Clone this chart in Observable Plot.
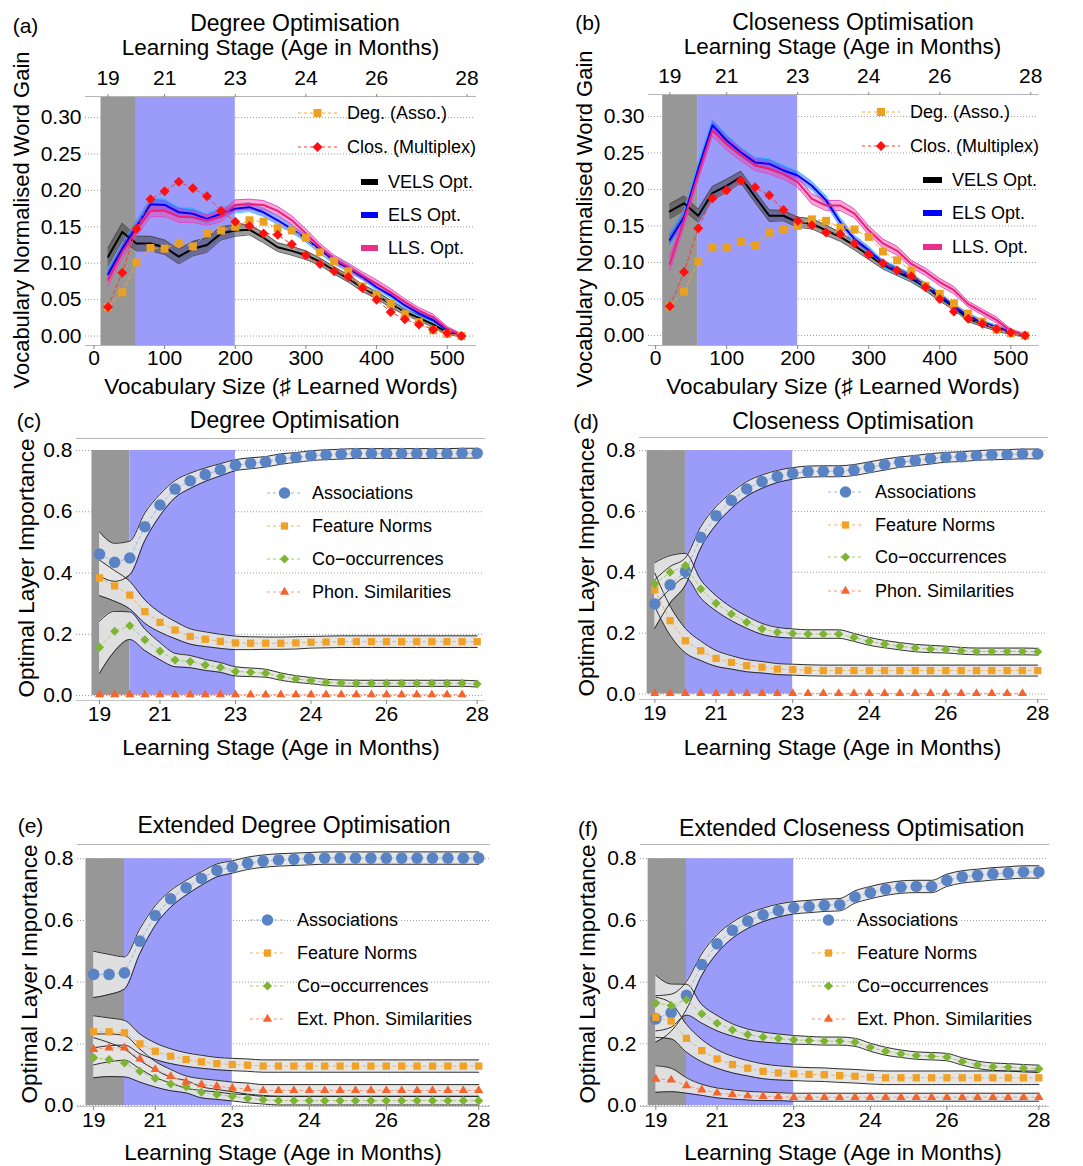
<!DOCTYPE html>
<html><head><meta charset="utf-8">
<script src="https://cdn.jsdelivr.net/npm/d3@7"></script>
<script src="https://cdn.jsdelivr.net/npm/@observablehq/plot@0.6"></script>
<style>
body{margin:0;background:#fff;font-family:"Liberation Sans",Arial,Helvetica,sans-serif;}
#root{position:relative;width:1083px;height:1166px;overflow:hidden;background:#fff;}
.t{position:absolute;white-space:nowrap;color:#000;line-height:1;transform:translate(-50%,-50%);}
.p{position:absolute;}
.p svg{overflow:visible;}
</style></head><body><div id="root"></div><script>
// ---------------- DATA ----------------
const vocab = [20,40,60,80,100,120,140,160,180,200,220,240,260,280,300,320,340,360,380,400,420,440,460,480,500,520];
const vocabTicks = [0,100,200,300,400,500];
const monthLabels = ["19","21","23","24","26","28"];
const monthAtVocabTop = [20,100,200,300,400,528];
const monthAtVocab = [20,100,200,300,400,520];
const gainTicks = [0,0.05,0.10,0.15,0.20,0.25,0.30];
const importanceTicks = [0,0.2,0.4,0.6,0.8];
const stageStart = [10,60];
const stageEnd = [60,200];
const stageImportanceRange = [0,0.8];

// panels (a),(b): baselines
const degAsso = [0.040,0.060,0.101,0.121,0.120,0.128,0.123,0.141,0.145,0.150,0.159,0.157,0.148,0.145,0.135,0.115,0.103,0.089,0.068,0.057,0.044,0.030,0.019,0.008,0.003,0.000];
const closMultiplex = [0.040,0.087,0.147,0.188,0.199,0.212,0.203,0.192,0.172,0.157,0.151,0.141,0.139,0.126,0.111,0.099,0.089,0.081,0.066,0.050,0.033,0.023,0.016,0.009,0.004,0.000];
// panel (a)
const velsA = [0.109,0.143,0.127,0.127,0.122,0.109,0.120,0.125,0.141,0.145,0.146,0.135,0.122,0.117,0.111,0.102,0.090,0.079,0.066,0.056,0.044,0.033,0.025,0.016,0.005,0.001];
const velsSprA = [0.012,0.012,0.010,0.010,0.010,0.010,0.010,0.010,0.009,0.008,0.007,0.007,0.006,0.006,0.006,0.005,0.005,0.005,0.005,0.005,0.005,0.004,0.004,0.004,0.003,0.002];
const elsA = [0.085,0.120,0.150,0.181,0.180,0.170,0.168,0.161,0.168,0.175,0.177,0.170,0.159,0.147,0.134,0.118,0.104,0.093,0.081,0.067,0.056,0.042,0.031,0.022,0.008,0.001];
const elsSprA = [0.008,0.008,0.008,0.008,0.008,0.007,0.007,0.007,0.007,0.006,0.006,0.006,0.006,0.005,0.005,0.005,0.005,0.005,0.004,0.004,0.004,0.004,0.004,0.003,0.003,0.002];
const llsA = [0.077,0.115,0.145,0.172,0.172,0.164,0.163,0.159,0.164,0.180,0.181,0.180,0.172,0.159,0.141,0.122,0.106,0.095,0.083,0.072,0.060,0.047,0.035,0.026,0.010,0.001];
const llsSprA = [0.008,0.008,0.008,0.008,0.008,0.008,0.007,0.007,0.007,0.007,0.007,0.006,0.006,0.006,0.006,0.005,0.005,0.005,0.005,0.005,0.005,0.004,0.004,0.004,0.003,0.002];
// panel (b)
const velsB = [0.170,0.181,0.164,0.195,0.205,0.217,0.190,0.164,0.164,0.155,0.153,0.144,0.135,0.123,0.110,0.097,0.087,0.078,0.066,0.052,0.039,0.023,0.016,0.009,0.004,0.000];
const velsSprB = [0.010,0.010,0.009,0.009,0.009,0.008,0.008,0.008,0.007,0.007,0.007,0.007,0.006,0.006,0.006,0.006,0.005,0.005,0.005,0.005,0.004,0.004,0.004,0.003,0.003,0.002];
const elsB = [0.131,0.162,0.228,0.288,0.267,0.251,0.237,0.235,0.226,0.219,0.205,0.185,0.155,0.132,0.117,0.098,0.089,0.080,0.068,0.055,0.039,0.027,0.018,0.011,0.005,0.000];
const elsSprB = [0.009,0.009,0.008,0.008,0.008,0.007,0.007,0.007,0.007,0.006,0.006,0.006,0.006,0.005,0.005,0.005,0.005,0.005,0.004,0.004,0.004,0.004,0.003,0.003,0.003,0.002];
const llsB = [0.098,0.158,0.221,0.281,0.262,0.247,0.233,0.228,0.221,0.210,0.187,0.178,0.178,0.167,0.144,0.126,0.116,0.098,0.087,0.073,0.062,0.043,0.032,0.021,0.006,0.000];
const llsSprB = [0.009,0.009,0.008,0.008,0.008,0.008,0.007,0.007,0.007,0.007,0.007,0.007,0.007,0.006,0.006,0.006,0.006,0.005,0.005,0.005,0.005,0.004,0.004,0.004,0.003,0.002];

// panel (c) Degree optimisation layer importance
const assocC = [0.462,0.435,0.449,0.551,0.622,0.674,0.701,0.721,0.737,0.752,0.758,0.763,0.772,0.777,0.783,0.786,0.788,0.790,0.790,0.790,0.790,0.790,0.790,0.790,0.791,0.791];
const assocSprC = [0.072,0.062,0.055,0.045,0.035,0.028,0.025,0.022,0.020,0.018,0.018,0.017,0.017,0.016,0.016,0.016,0.016,0.016,0.016,0.016,0.016,0.016,0.016,0.016,0.016,0.016];
const featC = [0.384,0.358,0.328,0.274,0.239,0.214,0.193,0.184,0.177,0.172,0.171,0.171,0.171,0.172,0.174,0.175,0.176,0.176,0.176,0.176,0.176,0.176,0.176,0.176,0.176,0.176];
const featSprC = [0.058,0.050,0.045,0.038,0.032,0.028,0.025,0.024,0.023,0.022,0.021,0.020,0.020,0.020,0.019,0.019,0.019,0.019,0.019,0.019,0.019,0.019,0.019,0.019,0.019,0.019];
const coocC = [0.158,0.210,0.228,0.182,0.145,0.116,0.111,0.100,0.092,0.079,0.076,0.073,0.062,0.054,0.049,0.043,0.041,0.040,0.040,0.040,0.040,0.040,0.040,0.040,0.040,0.038];
const coocSprC = [0.085,0.065,0.045,0.035,0.028,0.022,0.020,0.018,0.016,0.015,0.014,0.013,0.012,0.011,0.010,0.010,0.010,0.010,0.010,0.010,0.010,0.010,0.010,0.010,0.010,0.010];
const phonC = [0.003,0.003,0.003,0.003,0.003,0.003,0.003,0.003,0.003,0.003,0.003,0.003,0.003,0.003,0.003,0.003,0.003,0.003,0.003,0.003,0.003,0.003,0.003,0.003,0.003];

// panel (d) Closeness optimisation
const assocD = [0.296,0.359,0.403,0.515,0.586,0.636,0.674,0.698,0.715,0.725,0.731,0.732,0.732,0.736,0.745,0.754,0.762,0.767,0.773,0.778,0.780,0.784,0.786,0.787,0.789,0.789];
const assocSprD = [0.080,0.060,0.045,0.035,0.030,0.026,0.024,0.022,0.020,0.019,0.018,0.018,0.018,0.018,0.018,0.018,0.017,0.017,0.017,0.016,0.016,0.016,0.016,0.016,0.016,0.016];
const featD = [0.342,0.241,0.175,0.142,0.117,0.104,0.093,0.088,0.082,0.080,0.078,0.077,0.077,0.077,0.077,0.077,0.077,0.077,0.077,0.077,0.077,0.077,0.077,0.077,0.077,0.077];
const featSprD = [0.055,0.048,0.040,0.032,0.026,0.022,0.020,0.019,0.018,0.018,0.018,0.018,0.018,0.018,0.018,0.018,0.018,0.018,0.018,0.018,0.018,0.018,0.018,0.018,0.018,0.018];
const coocD = [0.362,0.400,0.422,0.345,0.298,0.263,0.236,0.214,0.203,0.199,0.197,0.197,0.197,0.186,0.173,0.164,0.157,0.151,0.148,0.146,0.142,0.140,0.140,0.140,0.140,0.139];
const coocSprD = [0.070,0.055,0.040,0.030,0.025,0.022,0.020,0.018,0.016,0.015,0.014,0.014,0.014,0.013,0.013,0.012,0.012,0.012,0.012,0.011,0.011,0.011,0.011,0.011,0.011,0.011];
const phonD = [0.002,0.002,0.002,0.002,0.002,0.002,0.002,0.002,0.002,0.002,0.002,0.002,0.002,0.002,0.002,0.002,0.002,0.002,0.002,0.002,0.002,0.002,0.002,0.002,0.002];

// panel (e) Extended degree optimisation
const assocE = [0.425,0.425,0.430,0.533,0.616,0.670,0.706,0.736,0.762,0.773,0.785,0.792,0.796,0.798,0.800,0.802,0.802,0.802,0.802,0.802,0.802,0.802,0.802,0.802,0.802,0.802];
const assocSprE = [0.075,0.065,0.052,0.040,0.032,0.027,0.024,0.022,0.021,0.020,0.020,0.020,0.020,0.020,0.020,0.020,0.020,0.020,0.020,0.020,0.020,0.020,0.020,0.020,0.020,0.020];
const featE = [0.239,0.239,0.236,0.200,0.176,0.160,0.149,0.142,0.136,0.133,0.131,0.128,0.128,0.128,0.128,0.128,0.128,0.128,0.128,0.128,0.128,0.128,0.128,0.128,0.128,0.128];
const featSprE = [0.052,0.045,0.040,0.032,0.027,0.024,0.022,0.021,0.020,0.020,0.020,0.020,0.020,0.020,0.020,0.020,0.020,0.020,0.020,0.020,0.020,0.020,0.020,0.020,0.020,0.020];
const coocE = [0.155,0.149,0.138,0.111,0.088,0.070,0.061,0.043,0.036,0.030,0.023,0.019,0.016,0.016,0.016,0.016,0.016,0.016,0.016,0.016,0.016,0.016,0.016,0.016,0.016,0.016];
const coocSprE = [0.065,0.055,0.045,0.035,0.028,0.022,0.020,0.018,0.016,0.015,0.014,0.014,0.014,0.014,0.014,0.014,0.014,0.014,0.014,0.014,0.014,0.014,0.014,0.014,0.014,0.014];
const extPhonE = [0.182,0.187,0.187,0.151,0.117,0.095,0.076,0.068,0.063,0.057,0.054,0.049,0.049,0.049,0.049,0.049,0.049,0.049,0.049,0.049,0.049,0.049,0.049,0.049,0.049,0.049];
const extPhonSprE = [0.050,0.045,0.040,0.032,0.026,0.022,0.020,0.019,0.019,0.019,0.019,0.019,0.019,0.019,0.019,0.019,0.019,0.019,0.019,0.019,0.019,0.019,0.019,0.019,0.019,0.019];

// panel (f) Extended closeness optimisation
const assocF = [0.281,0.301,0.357,0.457,0.524,0.568,0.598,0.618,0.632,0.641,0.645,0.649,0.651,0.676,0.690,0.701,0.708,0.710,0.710,0.730,0.741,0.746,0.751,0.754,0.757,0.757];
const assocSprF = [0.075,0.060,0.045,0.035,0.030,0.026,0.024,0.022,0.021,0.020,0.020,0.020,0.020,0.020,0.020,0.020,0.020,0.020,0.020,0.020,0.020,0.020,0.020,0.020,0.020,0.020];
const featF = [0.286,0.274,0.218,0.178,0.151,0.133,0.121,0.111,0.106,0.103,0.101,0.100,0.097,0.095,0.092,0.090,0.090,0.090,0.090,0.090,0.090,0.090,0.090,0.090,0.090,0.090];
const featSprF = [0.065,0.058,0.045,0.036,0.030,0.027,0.025,0.024,0.023,0.022,0.022,0.022,0.022,0.022,0.022,0.022,0.022,0.022,0.022,0.022,0.022,0.022,0.022,0.022,0.022,0.022];
const coocF = [0.332,0.324,0.343,0.297,0.267,0.245,0.230,0.222,0.217,0.213,0.211,0.209,0.209,0.205,0.189,0.176,0.168,0.162,0.160,0.157,0.143,0.132,0.126,0.124,0.121,0.119];
const coocSprF = [0.090,0.070,0.050,0.030,0.025,0.020,0.018,0.016,0.015,0.014,0.013,0.013,0.013,0.013,0.013,0.013,0.012,0.012,0.012,0.012,0.012,0.012,0.012,0.012,0.012,0.012];
const extPhonF = [0.086,0.083,0.065,0.051,0.041,0.036,0.032,0.030,0.029,0.027,0.027,0.027,0.027,0.027,0.027,0.027,0.027,0.027,0.027,0.027,0.027,0.027,0.027,0.027,0.027,0.027];
const extPhonSprF = [0.043,0.038,0.025,0.018,0.016,0.015,0.014,0.014,0.013,0.013,0.013,0.013,0.013,0.013,0.013,0.013,0.013,0.013,0.013,0.013,0.013,0.013,0.013,0.013,0.013,0.013];

// ---------------- STYLE / LAYOUT ----------------
const FONT = "Liberation Sans, Arial, Helvetica, sans-serif";
const STAGE_COLORS = ["#979797","#9b9bfa"];
const M = {l:70, r:30, t:45, b:45};
const root = document.getElementById("root");

function rowsOf(mean, spread) {
  return mean.map((m,i) => ({v: vocab[i], m, lo: spread ? m - spread[i] : m, hi: spread ? m + spread[i] : m}));
}
function addText(txt, x, y, size, opt = {}) {
  const d = document.createElement("div");
  d.className = "t";
  d.textContent = txt;
  d.style.left = x + "px"; d.style.top = y + "px"; d.style.fontSize = size + "px";
  if (opt.rotate) d.style.transform = "translate(-50%,-50%) rotate(-90deg)";
  if (opt.left) d.style.transform = "translate(0,-50%)";
  root.appendChild(d);
}
function place(svg, L) {
  const w = document.createElement("div");
  w.className = "p";
  w.style.left = (L.fx[0] - M.l) + "px";
  w.style.top = (L.fy[0] - M.t) + "px";
  w.appendChild(svg);
  root.appendChild(w);
}
function baseOpts(L) {
  return {
    width: L.fx[1] - L.fx[0] + M.l + M.r,
    height: L.fy[1] - L.fy[0] + M.t + M.b,
    marginLeft: M.l, marginRight: M.r, marginTop: M.t, marginBottom: M.b,
    x: {domain: L.xd}, y: {domain: L.yd},
    style: {fontFamily: FONT, fontSize: "21px", color: "#000", background: "transparent", overflow: "visible"}
  };
}

const DEG_STYLE = {line: "#eeaa3a", fill: "#e9a11f", symbol: "square", r: 4.5};
const CLOS_STYLE = {line: "#f23b3b", fill: "#ff1010", symbol: "diamond2", r: 4.5};

function gainPanel(L, bands) {
  const marks = [
    Plot.gridY(gainTicks, {stroke: "#9a9a9a", strokeOpacity: 1, strokeDasharray: "1,2"}),
    Plot.rect([{s: stageStart[0], e: stageEnd[0]}], {x1: "s", x2: "e", fill: STAGE_COLORS[0]}),
    Plot.rect([{s: stageStart[1], e: stageEnd[1]}], {x1: "s", x2: "e", fill: STAGE_COLORS[1]})
  ];
  for (const b of bands) {
    const rows = rowsOf(b.mean, b.spread);
    marks.push(Plot.areaY(rows, {x: "v", y1: "lo", y2: "hi", fill: b.fill, fillOpacity: b.op}));
    marks.push(Plot.line(rows, {x: "v", y: "lo", stroke: b.edge, strokeWidth: 1, strokeOpacity: 0.9}));
    marks.push(Plot.line(rows, {x: "v", y: "hi", stroke: b.edge, strokeWidth: 1, strokeOpacity: 0.9}));
  }
  for (const b of bands) {
    marks.push(Plot.line(rowsOf(b.mean), {x: "v", y: "m", stroke: b.line, strokeWidth: 2}));
  }
  const deg = rowsOf(degAsso), clos = rowsOf(closMultiplex);
  marks.push(Plot.line(deg, {x: "v", y: "m", stroke: DEG_STYLE.line, strokeWidth: 1, strokeDasharray: "4,3"}));
  marks.push(Plot.line(clos, {x: "v", y: "m", stroke: CLOS_STYLE.line, strokeWidth: 1, strokeDasharray: "4,3"}));
  marks.push(Plot.dot(deg, {x: "v", y: "m", symbol: DEG_STYLE.symbol, r: DEG_STYLE.r, fill: DEG_STYLE.fill}));
  marks.push(Plot.dot(clos, {x: "v", y: "m", symbol: CLOS_STYLE.symbol, r: CLOS_STYLE.r, fill: CLOS_STYLE.fill}));
  marks.push(Plot.frame({anchor: "top", stroke: "#b5b5b5"}));
  marks.push(Plot.frame({anchor: "bottom", stroke: "#b5b5b5"}));
  marks.push(Plot.axisY({ticks: gainTicks, tickFormat: d3.format(".2f"), tickSize: 0, tickPadding: 4, label: null}));
  marks.push(Plot.axisX({anchor: "bottom", ticks: vocabTicks, tickSize: 4, tickPadding: 1, label: null, stroke: "#888"}));
  marks.push(Plot.axisX({anchor: "top", ticks: monthAtVocabTop, tickFormat: d => monthLabels[monthAtVocabTop.indexOf(d)], tickSize: 3, tickPadding: 9, label: null, stroke: "#888"}));
  place(Plot.plot({...baseOpts(L), marks}), L);
}

const SER = {
  assoc: {symbol: "circle", r: 5.8, fill: "#5a83c6", line: "#9db5df"},
  feat:  {symbol: "square", r: 4.1, fill: "#f0a128", line: "#f1b45a"},
  cooc:  {symbol: "diamond2", r: 4.1, fill: "#7db532", line: "#a5cc6c"},
  phon:  {symbol: "triangle", r: 3.4, fill: "#f3642f", line: "#f59b79"}
};

function importancePanel(L, series) {
  const marks = [
    Plot.gridY(importanceTicks, {stroke: "#9a9a9a", strokeOpacity: 1, strokeDasharray: "1,2"}),
    Plot.rect([{s: stageStart[0], e: stageEnd[0]}], {x1: "s", x2: "e", y1: () => stageImportanceRange[0], y2: () => stageImportanceRange[1], fill: STAGE_COLORS[0]}),
    Plot.rect([{s: stageStart[1], e: stageEnd[1]}], {x1: "s", x2: "e", y1: () => stageImportanceRange[0], y2: () => stageImportanceRange[1], fill: STAGE_COLORS[1]})
  ];
  for (const s of series) {
    if (!s.spread) continue;
    const rows = rowsOf(s.mean, s.spread);
    marks.push(Plot.areaY(rows, {x: "v", y1: "lo", y2: "hi", fill: "#e4e4e4", fillOpacity: 0.93, curve: "monotone-x"}));
  }
  for (const s of series) {
    if (!s.spread) continue;
    const rows = rowsOf(s.mean, s.spread);
    marks.push(Plot.line(rows, {x: "v", y: "lo", stroke: "#1a1a1a", strokeWidth: 0.9, curve: "monotone-x"}));
    marks.push(Plot.line(rows, {x: "v", y: "hi", stroke: "#1a1a1a", strokeWidth: 0.9, curve: "monotone-x"}));
  }
  for (const s of series) {
    const st = SER[s.key];
    const rows = rowsOf(s.mean);
    marks.push(Plot.line(rows, {x: "v", y: "m", stroke: st.line, strokeWidth: 1, strokeDasharray: "3,3"}));
    marks.push(Plot.dot(rows, {x: "v", y: "m", symbol: st.symbol, r: st.r, fill: st.fill}));
  }
  marks.push(Plot.frame({anchor: "top", stroke: "#b5b5b5"}));
  marks.push(Plot.frame({anchor: "bottom", stroke: "#c5c5c5"}));
  marks.push(Plot.axisY({ticks: importanceTicks, tickFormat: d3.format(".1f"), tickSize: 0, tickPadding: 4, label: null}));
  marks.push(Plot.axisX({anchor: "bottom", ticks: monthAtVocab, tickFormat: d => monthLabels[monthAtVocab.indexOf(d)], tickSize: 4, tickPadding: 2, label: null, stroke: "#888"}));
  place(Plot.plot({...baseOpts(L), marks}), L);
}

// ---------------- PANELS ----------------
gainPanel({fx: [85,475], fy: [96,345], xd: [-12,540], yd: [-0.013,0.329]}, [
  {mean: velsA, spread: velsSprA, fill: "#3a3a3a", op: 0.5, edge: "#4a4a4a", line: "#000"},
  {mean: elsA, spread: elsSprA, fill: "#1f3dff", op: 0.45, edge: "#30c8ff", line: "#0000ff"},
  {mean: llsA, spread: llsSprA, fill: "#ff3fa0", op: 0.45, edge: "#dd44cc", line: "#e8207f"}
]);
gainPanel({fx: [648,1038], fy: [94,345], xd: [-10,539], yd: [-0.0137,0.330]}, [
  {mean: velsB, spread: velsSprB, fill: "#3a3a3a", op: 0.5, edge: "#4a4a4a", line: "#000"},
  {mean: elsB, spread: elsSprB, fill: "#1f3dff", op: 0.45, edge: "#30c8ff", line: "#0000ff"},
  {mean: llsB, spread: llsSprB, fill: "#ff3fa0", op: 0.45, edge: "#dd44cc", line: "#e8207f"}
]);
importancePanel({fx: [76,484], fy: [438,700], xd: [-10.5,529.7], yd: [-0.016,0.839]}, [
  {key: "assoc", mean: assocC, spread: assocSprC},
  {key: "feat", mean: featC, spread: featSprC},
  {key: "cooc", mean: coocC, spread: coocSprC},
  {key: "phon", mean: phonC}
]);
importancePanel({fx: [639,1047], fy: [437,699], xd: [0,532.7], yd: [-0.018,0.843]}, [
  {key: "assoc", mean: assocD, spread: assocSprD},
  {key: "feat", mean: featD, spread: featSprD},
  {key: "cooc", mean: coocD, spread: coocSprD},
  {key: "phon", mean: phonD}
]);
importancePanel({fx: [77,489], fy: [844,1106], xd: [-1,534], yd: [-0.003,0.846]}, [
  {key: "assoc", mean: assocE, spread: assocSprE},
  {key: "feat", mean: featE, spread: featSprE},
  {key: "cooc", mean: coocE, spread: coocSprE},
  {key: "phon", mean: extPhonE, spread: extPhonSprE}
]);
importancePanel({fx: [640,1048], fy: [844,1106], xd: [0,532.6], yd: [-0.003,0.846]}, [
  {key: "assoc", mean: assocF, spread: assocSprF},
  {key: "feat", mean: featF, spread: featSprF},
  {key: "cooc", mean: coocF, spread: coocSprF},
  {key: "phon", mean: extPhonF, spread: extPhonSprF}
]);

// ---------------- TEXT ----------------
const TS = 23, AS = 22.5, LS = 18;
addText("(a)", 25.5, 25, 21);
addText("Degree Optimisation", 295, 23, TS);
addText("Learning Stage (Age in Months)", 280.5, 48, AS);
addText("Vocabulary Normalised Word Gain", 22, 220, 22, {rotate: true});
addText("Vocabulary Size (\u266F Learned Words)", 281, 387, AS);

addText("(b)", 588, 22, 21);
addText("Closeness Optimisation", 853, 22, TS);
addText("Learning Stage (Age in Months)", 842.5, 47, AS);
addText("Vocabulary Normalised Word Gain", 585, 219, 22, {rotate: true});
addText("Vocabulary Size (\u266F Learned Words)", 843, 387, AS);

addText("(c)", 29, 420, 21);
addText("Degree Optimisation", 294.7, 420, TS);
addText("Optimal Layer Importance", 27, 568, AS, {rotate: true});
addText("Learning Stage (Age in Months)", 281, 748, AS);

addText("(d)", 586, 421, 21);
addText("Closeness Optimisation", 853, 421, TS);
addText("Optimal Layer Importance", 587, 567, AS, {rotate: true});
addText("Learning Stage (Age in Months)", 842.5, 748, AS);

addText("(e)", 30.5, 825, 21);
addText("Extended Degree Optimisation", 294, 825, TS);
addText("Optimal Layer Importance", 30, 974, AS, {rotate: true});
addText("Learning Stage (Age in Months)", 283, 1153, AS);

addText("(f)", 588, 828, 21);
addText("Extended Closeness Optimisation", 851.7, 828, TS);
addText("Optimal Layer Importance", 588, 974, AS, {rotate: true});
addText("Learning Stage (Age in Months)", 843, 1153, AS);

// ---------------- LEGENDS ----------------
const ov = d3.select(root).append("svg").attr("width", 1083).attr("height", 1166)
  .style("position", "absolute").style("left", "0px").style("top", "0px").style("pointer-events", "none");
const SYM = {circle: d3.symbolCircle, square: d3.symbolSquare, diamond2: d3.symbolDiamond2, triangle: d3.symbolTriangle};
function legendMarker(x1, x2, y, lineColor, symbol, r, fill) {
  ov.append("line").attr("x1", x1).attr("x2", x2).attr("y1", y).attr("y2", y)
    .attr("stroke", lineColor).attr("stroke-width", 1).attr("stroke-dasharray", "3,3");
  ov.append("path").attr("d", d3.symbol(SYM[symbol], Math.PI * r * r)()).attr("transform", `translate(${(x1 + x2) / 2},${y})`).attr("fill", fill);
}
function legendBar(x1, x2, y, color) {
  ov.append("rect").attr("x", x1).attr("y", y - 3).attr("width", x2 - x1).attr("height", 6).attr("fill", color);
}
function gainLegend(lx, tx, rows1, bx, btx, rows2) {
  legendMarker(lx[0], lx[1], rows1[0], DEG_STYLE.line, DEG_STYLE.symbol, DEG_STYLE.r, DEG_STYLE.fill);
  addText("Deg. (Asso.)", tx, rows1[0], LS, {left: true});
  legendMarker(lx[0], lx[1], rows1[1], CLOS_STYLE.line, CLOS_STYLE.symbol, CLOS_STYLE.r, CLOS_STYLE.fill);
  addText("Clos. (Multiplex)", tx, rows1[1], LS, {left: true});
  const bars = [["VELS Opt.", "#000"], ["ELS Opt.", "#0000ff"], ["LLS. Opt.", "#e8308a"]];
  bars.forEach(([t, c], i) => { legendBar(bx[0], bx[1], rows2[i], c); addText(t, btx, rows2[i], LS, {left: true}); });
}
gainLegend([298,337], 347, [113,147], [361,378], 388, [182,215,248]);
gainLegend([862,900], 910, [112,146], [923,942], 952, [180,213,247]);

function impLegend(lx, tx, rows, labels) {
  ["assoc", "feat", "cooc", "phon"].forEach((k, i) => {
    const st = SER[k];
    legendMarker(lx[0], lx[1], rows[i], st.line, st.symbol, st.r, st.fill);
    addText(labels[i], tx, rows[i], LS, {left: true});
  });
}
const impLabels = ["Associations", "Feature Norms", "Co\u2212occurrences", "Phon. Similarities"];
const extLabels = ["Associations", "Feature Norms", "Co\u2212occurrences", "Ext. Phon. Similarities"];
impLegend([267,302], 312, [493,526,559,592], impLabels);
impLegend([828,863], 875, [492,525,557,591], impLabels);
impLegend([250,285], 297, [920,953,986,1019], extLabels);
impLegend([812,845], 857, [920,953,986,1019], extLabels);
</script></body></html>
